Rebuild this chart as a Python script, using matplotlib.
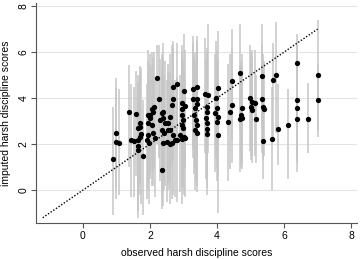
import matplotlib
matplotlib.use("Agg")
import matplotlib.pyplot as plt

observed = [0.90, 0.99, 1.07, 0.99, 1.37, 1.43, 1.58, 1.64, 1.64, 1.64,
            1.64, 1.70, 1.70, 1.73, 1.79, 1.91, 1.94, 1.94, 1.94, 1.97,
            2.00, 2.00, 2.20, 2.06, 2.06, 2.09, 2.09, 2.12, 2.15, 2.27,
            2.30, 2.36, 2.36, 2.36, 2.39, 2.39, 2.39, 2.42, 2.45, 2.51,
            2.54, 2.54, 2.60, 2.60, 2.60, 2.66, 2.66, 2.69, 2.69, 2.69,
            2.75, 2.81, 2.81, 2.90, 2.96, 2.96, 2.96, 2.96, 2.96, 2.99,
            2.99, 3.01, 3.01, 3.04, 3.04, 3.28, 3.28, 3.31, 3.34, 3.34,
            3.37, 3.40, 3.40, 3.40, 3.40, 3.40, 3.64, 3.67, 3.70, 3.70,
            3.70, 3.70, 3.70, 3.73, 3.94, 3.97, 4.00, 4.00, 4.03, 4.03,
            4.03, 4.33, 4.39, 4.45, 4.45, 4.69, 4.69, 4.72, 4.75, 4.75,
            4.99, 5.01, 5.04, 5.04, 5.13, 5.16, 5.34, 5.34, 5.37, 5.40,
            5.37, 5.64, 5.67, 5.76, 5.82, 6.12, 6.39, 6.39, 6.39, 6.39,
            6.72, 7.01, 7.01, 1.52, 1.70]

imputed = [1.35, 2.09, 2.04, 2.48, 3.39, 2.17, 3.30, 2.70, 2.17, 1.91,
           1.74, 2.74, 2.30, 2.43, 1.48, 2.17, 2.91, 2.39, 3.26, 2.04,
           3.13, 3.26, 4.87, 3.52, 2.83, 2.48, 3.39, 3.60, 2.26, 3.96,
           3.04, 3.35, 2.61, 0.87, 3.39, 3.13, 2.04, 2.48, 2.91, 2.09,
           2.61, 2.91, 3.17, 2.61, 2.00, 3.70, 2.04, 4.48, 3.96, 2.39,
           2.17, 4.60, 2.17, 2.39, 3.78, 3.52, 3.26, 2.83, 2.22, 3.04,
           2.70, 4.30, 2.30, 3.65, 2.26, 4.39, 3.96, 3.26, 3.57, 2.61,
           3.04, 4.48, 3.96, 3.74, 2.83, 2.48, 4.17, 3.13, 3.61, 3.39,
           2.91, 2.65, 2.43, 4.13, 3.35, 4.00, 3.57, 2.96, 4.43, 3.17,
           2.39, 2.96, 3.39, 4.74, 3.70, 5.09, 3.09, 3.26, 3.57, 3.13,
           4.00, 3.61, 3.83, 3.48, 3.78, 3.09, 4.96, 3.96, 3.61, 3.52,
           2.13, 2.22, 4.78, 5.00, 2.65, 2.83, 5.52, 3.91, 3.57, 3.09,
           3.09, 5.00, 3.91, 2.13, 2.91]

lower = [-1.10, -0.40, -0.20, 0.10, 1.00, -0.30, 0.60, 0.20, -0.90, -0.50,
         -1.20, 0.30, -0.20, -0.60, -1.10, -0.40, 0.40, 0.00, 0.60, -0.60,
         0.50, 0.70, 2.00, 0.90, 0.20, 0.20, 0.80, 1.00, -0.30, 1.40,
         0.40, 0.70, -0.20, -0.80, 0.60, 0.30, -0.70, 0.00, 0.20, -0.50,
         0.00, 0.30, 0.40, 0.10, -0.60, 1.10, -0.40, 1.90, 1.30, -0.20,
         -0.30, 2.00, -0.50, -0.10, 1.20, 0.90, 0.70, 0.20, -0.60, 0.40,
         0.10, 1.80, -0.20, 1.00, -0.30, 1.80, 1.40, 0.70, 1.00, 0.00,
         0.40, 1.90, 1.40, 1.20, 0.20, -0.10, 1.60, 0.50, 1.00, 0.80,
         0.40, 0.10, -0.20, 1.60, 0.80, 1.40, 1.00, 0.40, 1.80, 0.60,
         -1.00, 0.40, 0.90, 2.20, 1.20, 2.60, 0.80, 1.00, 1.20, 0.90,
         1.70, 1.30, 1.50, 1.20, 1.50, 1.20, 2.60, 1.60, 1.30, 1.50,
         0.50, 0.00, 2.30, 2.50, 1.10, 0.50, 3.00, 1.50, 1.20, 0.80,
         1.60, 2.60, 2.30, -0.30, 0.30]

upper = [3.60, 4.43, 4.40, 4.87, 5.45, 4.60, 5.20, 5.00, 4.70, 4.30,
         4.20, 5.10, 4.90, 5.30, 3.90, 4.60, 5.60, 5.00, 6.10, 4.80,
         5.90, 5.50, 6.30, 6.00, 5.40, 5.00, 5.80, 6.00, 4.80, 6.30,
         5.70, 5.90, 5.20, 3.00, 6.40, 5.80, 4.70, 5.00, 5.60, 4.80,
         5.20, 5.50, 5.90, 5.10, 4.60, 6.30, 4.70, 6.50, 6.20, 5.00,
         4.80, 6.40, 4.90, 5.00, 6.30, 6.00, 5.80, 5.40, 4.90, 5.60,
         5.30, 6.80, 4.90, 6.10, 4.80, 6.70, 6.40, 5.80, 6.00, 5.20,
         5.60, 6.70, 6.50, 6.10, 5.40, 5.10, 6.60, 5.70, 6.20, 6.00,
         5.50, 5.20, 5.00, 7.20, 5.90, 6.50, 6.10, 5.60, 6.90, 5.70,
         5.00, 5.50, 5.90, 7.00, 6.20, 7.20, 5.40, 5.60, 5.90, 5.40,
         6.30, 6.00, 6.10, 5.80, 6.10, 5.00, 7.20, 6.30, 5.90, 5.60,
         3.80, 4.50, 6.40, 7.30, 4.60, 4.40, 6.80, 6.30, 5.90, 5.40,
         4.65, 7.40, 5.50, 4.50, 5.40]

ref_line = [-1.2, 7.0]
xticks = [0, 2, 4, 6, 8]
yticks = [0, 2, 4, 6, 8]

plt.rcParams['font.family'] = ['Liberation Sans', 'DejaVu Sans']

fig = plt.figure(figsize=(3.6, 2.59), dpi=100)
ax = fig.add_axes([0.1, 0.139, 0.892, 0.849])

for yt in yticks:
    ax.axhline(yt, color='#e4e4e4', lw=0.8, zorder=0)

ax.vlines(observed, lower, upper, color='#c6c6c6', lw=1.1, zorder=1)
ax.plot(ref_line, ref_line, color='black', lw=1.0, ls=(0, (1, 1.3)), zorder=2)
ax.plot(observed, imputed, 'o', color='black', ms=3.8, mew=0, zorder=3)

ax.set_xlim(-1.40, 8.18)
ax.set_ylim(-1.43, 8.13)
ax.set_xticks(xticks)
ax.set_yticks(yticks)
ax.set_yticklabels([str(t) for t in yticks], rotation=90, va='center')
for s in ['top', 'right']:
    ax.spines[s].set_visible(False)
for s in ['left', 'bottom']:
    ax.spines[s].set_color('#555555')
    ax.spines[s].set_linewidth(0.8)
ax.tick_params(axis='both', labelsize=7.5, length=3.5, width=0.8, color='#555555', pad=2)
ax.set_xlabel('observed harsh discipline scores', fontsize=7.5, labelpad=5)
ax.set_ylabel('imputed harsh discipline scores', fontsize=7.5, labelpad=5)

fig.savefig('out.png', dpi=100)
